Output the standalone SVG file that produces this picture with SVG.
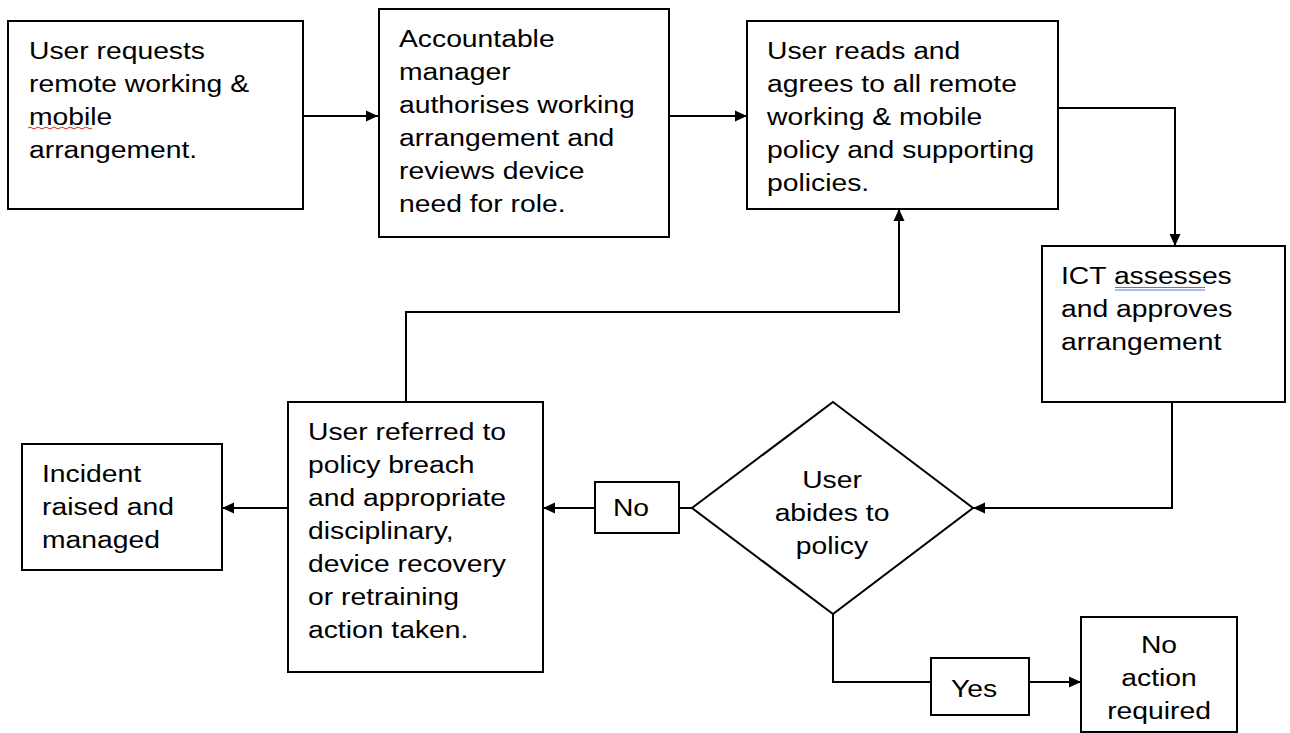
<svg xmlns="http://www.w3.org/2000/svg" width="1290" height="733" viewBox="0 0 1290 733">
<style>
.box{fill:#fff;stroke:#000;stroke-width:2}
.t{font-family:"Liberation Sans",Arial,sans-serif;font-size:23px;fill:#000}
.c{text-anchor:middle}
.conn path{fill:none;stroke:#000;stroke-width:2}
</style>
<defs>
<marker id="ah" markerUnits="userSpaceOnUse" markerWidth="12" markerHeight="12" refX="12" refY="6" orient="auto">
<path d="M0,0.5 L12,6 L0,11.5 z" fill="#000"/>
</marker>
</defs>
<rect width="1290" height="733" fill="#fff"/>
<g id="conn" class="conn">
<path d="M303,116 H378" marker-end="url(#ah)"/>
<path d="M669,116 H747" marker-end="url(#ah)"/>
<path d="M1058,108 H1175 V246" marker-end="url(#ah)"/>
<path d="M1172,402 V508 H973" marker-end="url(#ah)"/>
<path d="M692,508 H679"/>
<path d="M595,508 H543" marker-end="url(#ah)"/>
<path d="M288,508 H222" marker-end="url(#ah)"/>
<path d="M406,402 V312 H899 V209" marker-end="url(#ah)"/>
<path d="M833,614 V682 H931"/>
<path d="M1029,682 H1081" marker-end="url(#ah)"/>
</g>
<g id="n1">
<rect class="box" x="8" y="21" width="295" height="188"/>
<text class="t" transform="translate(29,59) scale(1.23,1)"><tspan x="0" y="0">User requests</tspan><tspan x="0" y="33">remote working &amp;</tspan><tspan x="0" y="66">mobile</tspan><tspan x="0" y="99">arrangement.</tspan></text>
<path d="M28,128 q2,-2 4,0 t4,0 t4,0 t4,0 t4,0 t4,0 t4,0 t4,0 t4,0 t4,0 t4,0 t4,0 t4,0 t4,0 t4,0 t4,0" fill="none" stroke="#d22" stroke-width="1"/>
</g>
<g id="n2">
<rect class="box" x="379" y="9" width="290" height="228"/>
<text class="t" transform="translate(399,47) scale(1.23,1)"><tspan x="0" y="0">Accountable</tspan><tspan x="0" y="33">manager</tspan><tspan x="0" y="66">authorises working</tspan><tspan x="0" y="99">arrangement and</tspan><tspan x="0" y="132">reviews device</tspan><tspan x="0" y="165">need for role.</tspan></text>
</g>
<g id="n3">
<rect class="box" x="747" y="21" width="311" height="188"/>
<text class="t" transform="translate(767,59) scale(1.23,1)"><tspan x="0" y="0">User reads and</tspan><tspan x="0" y="33">agrees to all remote</tspan><tspan x="0" y="66">working &amp; mobile</tspan><tspan x="0" y="99">policy and supporting</tspan><tspan x="0" y="132">policies.</tspan></text>
</g>
<g id="n4">
<rect class="box" x="1042" y="246" width="243" height="156"/>
<text class="t" transform="translate(1061,284) scale(1.23,1)"><tspan x="0" y="0">ICT assesses</tspan><tspan x="0" y="33">and approves</tspan><tspan x="0" y="66">arrangement</tspan></text>
<path d="M1115,287.5 H1205 M1115,290 H1205" stroke="#4a7fd8" stroke-width="1" fill="none"/>
</g>
<g id="n5">
<polygon class="box" points="833,402 973,508 833,614 692,508"/>
<text class="t c" transform="translate(832,488) scale(1.23,1)"><tspan x="0" y="0">User</tspan><tspan x="0" y="33">abides to</tspan><tspan x="0" y="66">policy</tspan></text>
</g>
<g id="n6">
<rect class="box" x="595" y="482" width="84" height="51"/>
<text class="t c" transform="translate(631,516) scale(1.23,1)">No</text>
</g>
<g id="n7">
<rect class="box" x="288" y="402" width="255" height="270"/>
<text class="t" transform="translate(308,440) scale(1.23,1)"><tspan x="0" y="0">User referred to</tspan><tspan x="0" y="33">policy breach</tspan><tspan x="0" y="66">and appropriate</tspan><tspan x="0" y="99">disciplinary,</tspan><tspan x="0" y="132">device recovery</tspan><tspan x="0" y="165">or retraining</tspan><tspan x="0" y="198">action taken.</tspan></text>
</g>
<g id="n8">
<rect class="box" x="22" y="444" width="200" height="126"/>
<text class="t" transform="translate(42,482) scale(1.23,1)"><tspan x="0" y="0">Incident</tspan><tspan x="0" y="33">raised and</tspan><tspan x="0" y="66">managed</tspan></text>
</g>
<g id="n9">
<rect class="box" x="931" y="658" width="98" height="57"/>
<text class="t c" transform="translate(974,697) scale(1.23,1)">Yes</text>
</g>
<g id="n10">
<rect class="box" x="1081" y="617" width="156" height="115"/>
<text class="t c" transform="translate(1159,653) scale(1.23,1)"><tspan x="0" y="0">No</tspan><tspan x="0" y="33">action</tspan><tspan x="0" y="66">required</tspan></text>
</g>
</svg>
